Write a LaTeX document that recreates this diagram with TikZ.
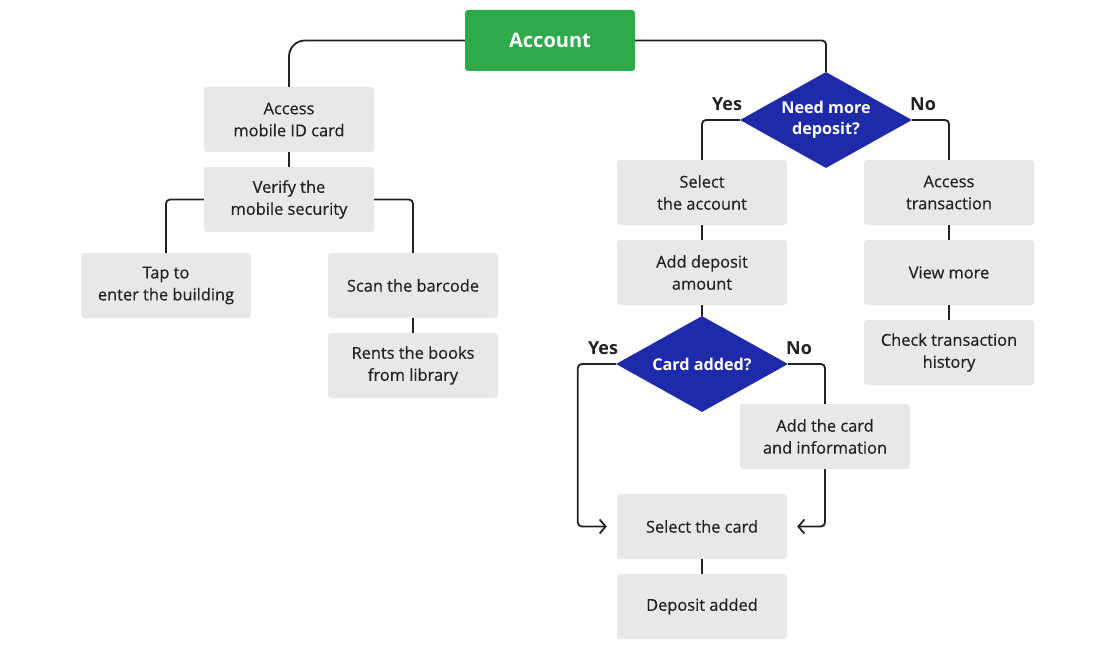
\documentclass[tikz,border=0pt]{standalone}
\usepackage{fontspec}
\setmainfont{Open Sans}
\newfontfamily\boxfont[FakeBold=0.5]{Open Sans}
\usetikzlibrary{shapes.geometric,arrows.meta}
\definecolor{boxgray}{HTML}{E8E8E8}
\definecolor{rootgreen}{HTML}{2DAA4A}
\definecolor{askblue}{HTML}{1F2AAA}
\definecolor{inkgray}{HTML}{222222}
\begin{document}
\begin{tikzpicture}[x=1pt,y=-1pt,
        box/.style={fill=boxgray, rounded corners=3pt, minimum width=170pt, minimum height=65pt,
            inner sep=0pt, align=center, text=inkgray, font=\boxfont\fontsize{16.4}{22}\selectfont},
        root/.style={fill=rootgreen, rounded corners=3pt, minimum width=170pt, minimum height=61pt,
            text=white, font=\fontsize{20}{22}\selectfont\bfseries},
        ask/.style={diamond, aspect=1.79, fill=askblue, minimum width=172pt, minimum height=96pt, inner sep=0pt,
            align=center, text=white, font=\fontsize{16.2}{21}\selectfont\bfseries},
        lbl/.style={text=inkgray, font=\fontsize{18}{20}\selectfont\bfseries},
        conn/.style={draw=inkgray, line width=1.8pt, rounded corners=4pt},
        >={Straight Barb[length=6pt,width=14pt]}]
    \useasboundingbox (0,0) rectangle (1100,650);
    % root and left branch
    \node[root] (acc) at (550,40.5) {Account};
    \node[box] (mob) at (289,119.5) {Access\\mobile ID card};
    \node[box] (ver) at (289,199.5) {Verify the\\mobile security};
    \node[box] (tap) at (166,285.5) {Tap to\\enter the building};
    \node[box] (scan) at (413,285.5) {Scan the barcode};
    \node[box] (rent) at (413,365.5) {Rents the books\\from library};
    % right branch
    \node[ask] (need) at (826,120) {Need more\\deposit?};
    \node[box] (sela) at (702,192.5) {Select\\the account};
    \node[box] (amt) at (702,272.5) {Add deposit\\amount};
    \node[ask] (card) at (702,364) {Card added?};
    \node[box] (addc) at (825,436.5) {Add the card\\and information};
    \node[box] (selc) at (702,526.5) {Select the card};
    \node[box] (done) at (702,606.5) {Deposit added};
    \node[box] (acct) at (949,192.5) {Access\\transaction};
    \node[box] (view) at (949,272.5) {View more};
    \node[box] (hist) at (949,352.5) {Check transaction\\history};
    % labels
    \node[lbl] (yes1) at (727,104) {Yes};
    \node[lbl] (no1) at (923,104) {No};
    \node[lbl] (yes2) at (603,348) {Yes};
    \node[lbl] (no2) at (799,348) {No};
    % connectors
    \draw[conn, rounded corners=16pt] (acc.west) -| (mob.north);
    \draw[conn] (acc.east) -| (need.north);
    \draw[conn] (mob) -- (ver);
    \draw[conn] (ver.west) -| (tap.north);
    \draw[conn] (ver.east) -| (scan.north);
    \draw[conn] (scan) -- (rent);
    \draw[conn] (need.west) -| (sela.north);
    \draw[conn] (need.east) -| (acct.north);
    \draw[conn] (sela) -- (amt);
    \draw[conn] (amt) -- (card);
    \draw[conn] (acct) -- (view);
    \draw[conn] (view) -- (hist);
    \draw[conn, ->, shorten >=10pt] (card.west) -- ++(-38,0) |- (selc.west);
    \draw[conn] (card.east) -| (addc.north);
    \draw[conn, ->, shorten >=10pt] (addc.south) |- (selc.east);
    \draw[conn] (selc) -- (done);
\end{tikzpicture}
\end{document}
